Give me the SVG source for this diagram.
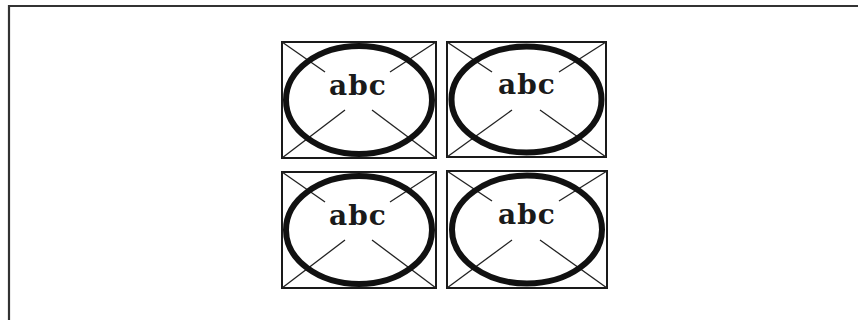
<svg xmlns="http://www.w3.org/2000/svg" width="858" height="320" viewBox="0 0 858 320">
<style>
.frame{fill:none;stroke:#333;stroke-width:2.2}
.box{fill:#fff;stroke:#1a1a1a;stroke-width:2}
.diag{stroke:#222;stroke-width:1.3;fill:none}
.ell{fill:none;stroke:#111;stroke-width:6}
.lbl{font-family:"DejaVu Serif","Liberation Serif",serif;font-weight:bold;font-size:28px;letter-spacing:1px;fill:#1a1a1a;text-anchor:middle}
</style>
<rect width="858" height="320" fill="#fff"/>
<path class="frame" d="M9 322 V6 H860"/>
<g id="node1" transform="translate(282,42)">
<rect class="box" x="0" y="0" width="154" height="116"/>
<line class="diag" x1="0" y1="0" x2="43" y2="30"/>
<line class="diag" x1="154" y1="0" x2="108" y2="30"/>
<line class="diag" x1="0" y1="116" x2="63" y2="68"/>
<line class="diag" x1="154" y1="116" x2="90" y2="68"/>
<ellipse class="ell" cx="77" cy="58" rx="73" ry="54"/>
<text class="lbl" x="76" y="53">abc</text>
</g>
<g id="node2" transform="translate(447,42)">
<rect class="box" x="0" y="0" width="159" height="115"/>
<line class="diag" x1="0" y1="0" x2="45" y2="30"/>
<line class="diag" x1="159" y1="0" x2="112" y2="30"/>
<line class="diag" x1="0" y1="115" x2="65" y2="68"/>
<line class="diag" x1="159" y1="115" x2="93" y2="68"/>
<ellipse class="ell" cx="79.5" cy="57.5" rx="75" ry="53"/>
<text class="lbl" x="80" y="52">abc</text>
</g>
<g id="node3" transform="translate(282,172)">
<rect class="box" x="0" y="0" width="154" height="116"/>
<line class="diag" x1="0" y1="0" x2="43" y2="30"/>
<line class="diag" x1="154" y1="0" x2="108" y2="30"/>
<line class="diag" x1="0" y1="116" x2="63" y2="68"/>
<line class="diag" x1="154" y1="116" x2="90" y2="68"/>
<ellipse class="ell" cx="77" cy="58" rx="73" ry="54"/>
<text class="lbl" x="76" y="53">abc</text>
</g>
<g id="node4" transform="translate(447,171)">
<rect class="box" x="0" y="0" width="160" height="117"/>
<line class="diag" x1="0" y1="0" x2="45" y2="30"/>
<line class="diag" x1="160" y1="0" x2="112" y2="30"/>
<line class="diag" x1="0" y1="117" x2="65" y2="69"/>
<line class="diag" x1="160" y1="117" x2="93" y2="69"/>
<ellipse class="ell" cx="80" cy="58.5" rx="75" ry="54"/>
<text class="lbl" x="80" y="53">abc</text>
</g>
<g id="connectors"></g>
</svg>
